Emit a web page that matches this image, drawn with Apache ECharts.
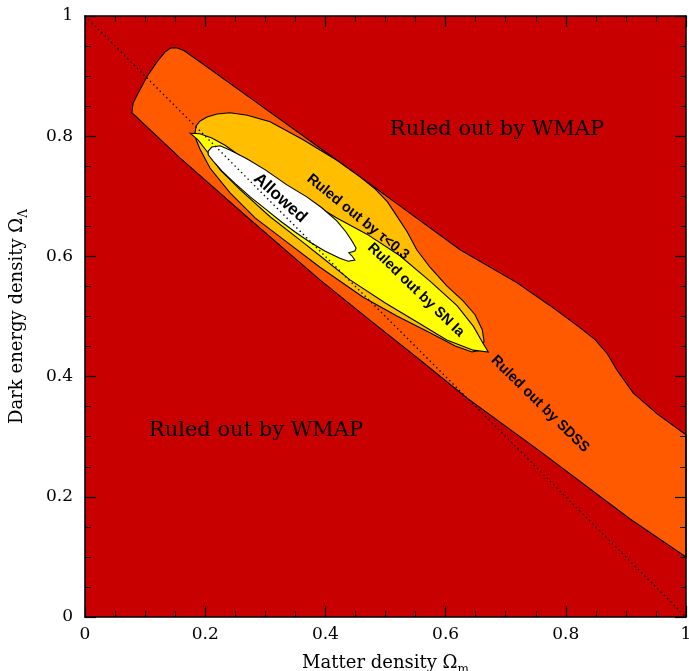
<!DOCTYPE html>
<html><head><meta charset="utf-8">
<script src="https://cdn.jsdelivr.net/npm/echarts@6/dist/echarts.min.js"></script>
<style>html,body{margin:0;padding:0;background:#fff}#c{width:689px;height:671px}</style>
</head><body><div id="c"></div>
<script>
// ---- data (Omega_m, Omega_Lambda) ----
const sdssX = [0.078,0.080,0.087,0.103,0.120,0.133,0.143,0.153,0.165,0.191,0.280,0.358,0.458,0.524,0.624,0.719,0.774,0.824,0.849,0.869,0.885,0.912,0.952,1.000,1.000,0.907,0.754,0.636,0.557,0.474,0.391,0.275,0.158];
const sdssY = [0.839,0.855,0.869,0.899,0.924,0.940,0.947,0.947,0.942,0.924,0.860,0.804,0.732,0.684,0.611,0.556,0.518,0.481,0.461,0.438,0.411,0.373,0.338,0.303,0.100,0.163,0.278,0.364,0.428,0.494,0.561,0.661,0.764];

const tauX = [0.183,0.185,0.191,0.203,0.220,0.241,0.270,0.308,0.363,0.419,0.458,0.483,0.503,0.519,0.536,0.552,0.574,0.602,0.629,0.649,0.661,0.664,0.657,0.644,0.616,0.574,0.519,0.463,0.391,0.325,0.283,0.241,0.208,0.191,0.185];
const tauY = [0.805,0.817,0.825,0.832,0.837,0.839,0.835,0.824,0.794,0.760,0.732,0.712,0.691,0.667,0.641,0.611,0.582,0.551,0.526,0.503,0.478,0.458,0.444,0.441,0.451,0.473,0.501,0.532,0.582,0.632,0.664,0.706,0.747,0.779,0.794];

const snX = [0.175,0.191,0.211,0.233,0.275,0.325,0.369,0.419,0.469,0.524,0.574,0.619,0.646,0.662,0.671,0.646,0.602,0.549,0.499,0.441,0.391,0.358,0.308,0.258,0.225,0.205,0.188];
const snY = [0.805,0.804,0.797,0.785,0.755,0.722,0.694,0.664,0.637,0.601,0.559,0.518,0.484,0.456,0.441,0.444,0.461,0.493,0.523,0.561,0.601,0.627,0.666,0.711,0.744,0.772,0.794];

const allowedX = [0.205,0.211,0.225,0.241,0.270,0.300,0.336,0.369,0.394,0.419,0.434,0.444,0.451,0.449,0.439,0.444,0.449,0.438,0.424,0.399,0.374,0.349,0.325,0.300,0.275,0.250,0.228,0.213,0.205];
const allowedY = [0.775,0.782,0.784,0.777,0.762,0.744,0.719,0.699,0.681,0.659,0.641,0.626,0.614,0.609,0.606,0.601,0.594,0.592,0.597,0.609,0.624,0.641,0.659,0.679,0.699,0.721,0.742,0.759,0.769];

const flatX = [0, 1];
const flatY = [1, 0];

const xTickLabels = ['0','0.2','0.4','0.6','0.8','1'];

const noteText = ['Ruled out by WMAP','Ruled out by WMAP','Allowed','Ruled out by \u03c4<0.3','Ruled out by SN Ia','Ruled out by SDSS'];
const noteX = [0.6855,0.2845,0.3245,0.4542,0.5507,0.7571];
const noteY = [0.8103,0.3095,0.6972,0.6656,0.5441,0.3544];

// ---- styles ----
const noteStyle = [
  {font:'21px "DejaVu Serif"', rot:0},
  {font:'21px "DejaVu Serif"', rot:0},
  {font:'bold 17px "Liberation Sans"', rot:-42},
  {font:'bold 14.5px "Liberation Sans"', rot:-39},
  {font:'bold 14.5px "Liberation Sans"', rot:-44},
  {font:'bold 14.5px "Liberation Sans"', rot:-44.5}
];

function polySeries(xs, ys, color, z) {
  return {
    type:'custom', coordinateSystem:'cartesian2d', z:z, silent:true, animation:false,
    data: xs.map((x,i)=>[x, ys[i]]),
    renderItem: function(params, api){
      if (params.dataIndex !== 0) return null;
      const pts = xs.map((x,i)=>api.coord([x, ys[i]]));
      return {type:'polygon', shape:{points:pts}, style:{fill:color, stroke:'#000', lineWidth:1.1}};
    }
  };
}

const axisBase = {
  type:'value', min:0, max:1, interval:0.2, z:20,
  axisLine:{show:true, onZero:false, lineStyle:{color:'#000', width:1.6}},
  axisTick:{show:true, inside:true, length:11, lineStyle:{color:'#000', width:1.2}},
  minorTick:{show:true, splitNumber:4, length:6, lineStyle:{color:'#000', width:1}},
  splitLine:{show:false}, minorSplitLine:{show:false}
};
const serif = 'DejaVu Serif';

const chart = echarts.init(document.getElementById('c'), null, {renderer:'canvas'});
chart.setOption({
  animation:false,
  backgroundColor:'#fff',
  grid:{left:85, right:3, top:16, bottom:54, outerBoundsMode:'none', containLabel:false,
        show:true, backgroundColor:'#C80000', borderColor:'#000', borderWidth:0, z:0},
  xAxis:[
    Object.assign({}, axisBase, {position:'bottom',
      axisLabel:{color:'#000', fontFamily:serif, fontSize:17, margin:9,
        formatter:(v)=>xTickLabels[Math.round(v/0.2)]},
      name:'Matter density \u03a9{s|m}', nameLocation:'middle', nameGap:33,
      nameTextStyle:{color:'#000', fontFamily:serif, fontSize:18,
        rich:{s:{fontFamily:serif, fontSize:12, color:'#000', padding:[14,0,0,0]}}}}),
    Object.assign({}, axisBase, {position:'top', axisLabel:{show:false}})
  ],
  yAxis:[
    Object.assign({}, axisBase, {position:'left',
      axisLabel:{color:'#000', fontFamily:serif, fontSize:17, margin:12,
        formatter:(v)=>xTickLabels[Math.round(v/0.2)]},
      name:'Dark energy density \u03a9{s|\u039b}', nameLocation:'middle', nameGap:55, nameRotate:90,
      nameTextStyle:{color:'#000', fontFamily:serif, fontSize:18,
        rich:{s:{fontFamily:serif, fontSize:12, color:'#000', padding:[14,0,0,0]}}}}),
    Object.assign({}, axisBase, {position:'right', axisLabel:{show:false}})
  ],
  series:[
    polySeries(sdssX, sdssY, '#FF5A00', 2),
    polySeries(tauX, tauY, '#FFBE00', 3),
    polySeries(snX, snY, '#FFFF00', 4),
    polySeries(allowedX, allowedY, '#FFFFFF', 5),
    {type:'line', z:6, silent:true, symbol:'none', animation:false,
     data: flatX.map((x,i)=>[x, flatY[i]]),
     lineStyle:{color:'#000', width:1.4, type:[1.4,3.2]}},
    {type:'custom', coordinateSystem:'cartesian2d', z:7, silent:true, animation:false,
     data: noteX.map((x,i)=>[x, noteY[i]]),
     renderItem:function(params, api){
       const i = params.dataIndex;
       const p = api.coord([noteX[i], noteY[i]]);
       return {type:'text', x:p[0], y:p[1], rotation: noteStyle[i].rot*Math.PI/180,
         style:{text:noteText[i], font:noteStyle[i].font, fill:'#000', align:'center', verticalAlign:'middle'}};
     }}
  ]
});
</script></body></html>
